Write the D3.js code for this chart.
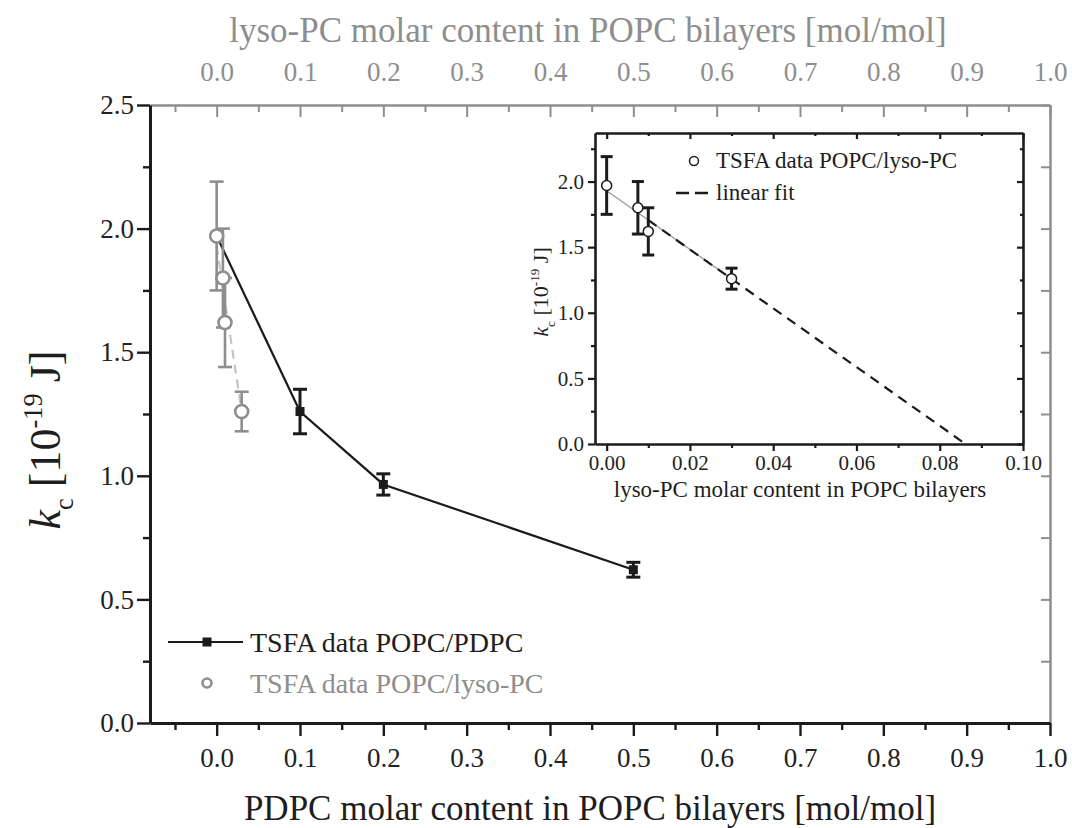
<!DOCTYPE html>
<html>
<head>
<meta charset="utf-8">
<script src="https://cdn.jsdelivr.net/npm/d3@7"></script>
<style>
  body { margin: 0; background: #fff; }
  text { font-family: "Liberation Serif", "DejaVu Serif", serif; }
</style>
</head>
<body>
<div id="chart"></div>
<script>
// POPC/PDPC series (bottom axis)
const pdpcX = [0.0, 0.1, 0.2, 0.5]
const pdpcK = [1.97, 1.26, 0.965, 0.62]
const pdpcErr = [0, 0.09, 0.043, 0.03]

// POPC/lyso-PC series (top axis, also inset)
const lysoX = [0.0, 0.0075, 0.01, 0.03]
const lysoK = [1.97, 1.80, 1.62, 1.26]
const lysoErr = [0.22, 0.20, 0.18, 0.08]

// linear fit end points
const fitMainX = [0.0, 0.03], fitMainK = [1.93, 1.26]
const fitInsetX = [0.01, 0.0862], fitInsetK = [1.706, 0.0]

const mainXTicks = d3.range(0, 11).map(d => d / 10)
const mainXMinor = d3.range(-1, 20, 2).map(d => d / 20)
const mainYTicks = [0, 0.5, 1.0, 1.5, 2.0, 2.5]
const mainYMinor = [0.25, 0.75, 1.25, 1.75, 2.25]
const insetXTicks = [0, 0.02, 0.04, 0.06, 0.08, 0.10]
const insetXMinor = [0.01, 0.03, 0.05, 0.07, 0.09]
const insetYTicks = [0, 0.5, 1.0, 1.5, 2.0]
const insetYMinor = [0.25, 0.75, 1.25, 1.75, 2.25]

const W = 1072, H = 828
const black = "#1b1b1b", gray = "#8e8e8e"

let svg = d3.select("#chart").append("svg")
    .attr("width", W)
    .attr("height", H)

//主图比例尺
let x = d3.scaleLinear().domain([-0.08, 1.0]).range([150, 1050])
let y = d3.scaleLinear().domain([0, 2.5]).range([723, 105])

function styleAxis(g, color, width, fontSize) {
    g.select(".domain").attr("stroke", color).attr("stroke-width", width)
    g.selectAll(".tick line").attr("stroke", color).attr("stroke-width", width * 0.8)
    g.selectAll(".tick text").attr("fill", color)
        .style("font-family", "Liberation Serif, serif")
        .style("font-size", fontSize + "px")
}

// top axis (gray, ticks inward)
let gTop = svg.append("g").attr("transform", "translate(0,105)")
    .call(d3.axisTop(x).tickValues(mainXTicks).tickSize(-12).tickSizeOuter(0)
        .tickPadding(24).tickFormat(d3.format(".1f")))
styleAxis(gTop, gray, 2.5, 27)
svg.append("g").attr("transform", "translate(0,105)")
    .call(d3.axisTop(x).tickValues(mainXMinor.filter(d => d > -0.06)).tickSize(-7).tickFormat(""))
    .call(g => g.select(".domain").remove())
    .selectAll("line").attr("stroke", gray).attr("stroke-width", 2)

// right axis (gray, ticks inward)
let gRight = svg.append("g").attr("transform", "translate(1050,0)")
    .call(d3.axisRight(y).tickValues(mainYTicks.concat(mainYMinor)).tickSize(-9).tickSizeOuter(0).tickFormat(""))
styleAxis(gRight, gray, 2.5, 27)

// bottom axis
let gBottom = svg.append("g").attr("transform", "translate(0,723)")
    .call(d3.axisBottom(x).tickValues(mainXTicks).tickSize(13).tickSizeOuter(0)
        .tickPadding(12).tickFormat(d3.format(".1f")))
styleAxis(gBottom, black, 3, 27)
gBottom.selectAll(".tick text").attr("fill", "#222")
svg.append("g").attr("transform", "translate(0,723)")
    .call(d3.axisBottom(x).tickValues(mainXMinor).tickSize(7).tickFormat(""))
    .call(g => g.select(".domain").remove())
    .selectAll("line").attr("stroke", black).attr("stroke-width", 2.4)

// left axis
let gLeft = svg.append("g").attr("transform", "translate(150,0)")
    .call(d3.axisLeft(y).tickValues(mainYTicks).tickSize(13).tickSizeOuter(0)
        .tickPadding(3).tickFormat(d3.format(".1f")))
styleAxis(gLeft, black, 3, 27)
gLeft.selectAll(".tick text").attr("fill", "#222")
svg.append("g").attr("transform", "translate(150,0)")
    .call(d3.axisLeft(y).tickValues(mainYMinor).tickSize(7).tickFormat(""))
    .call(g => g.select(".domain").remove())
    .selectAll("line").attr("stroke", black).attr("stroke-width", 2.4)

// axis titles
svg.append("text")
    .attr("x", 588).attr("y", 42)
    .attr("text-anchor", "middle")
    .attr("fill", gray)
    .style("font-size", "35px")
    .text("lyso-PC molar content in POPC bilayers [mol/mol]")

svg.append("text")
    .attr("x", 590).attr("y", 820)
    .attr("text-anchor", "middle")
    .attr("fill", "#1e1e1e")
    .style("font-size", "35px")
    .text("PDPC molar content in POPC bilayers [mol/mol]")

function kcLabel(sel, size) {
    sel.append("tspan").style("font-style", "italic").text("k")
    sel.append("tspan").attr("dy", size * 0.3).style("font-size", (size * 0.6) + "px").text("c")
    sel.append("tspan").attr("dy", -size * 0.3).text(" [10")
    sel.append("tspan").attr("dy", -size * 0.42).style("font-size", (size * 0.6) + "px").text("-19")
    sel.append("tspan").attr("dy", size * 0.42).text(" J]")
}
let yTitle = svg.append("text")
    .attr("transform", "translate(60,440) rotate(-90)")
    .attr("text-anchor", "middle")
    .attr("fill", "#1e1e1e")
    .style("font-size", "44px")
kcLabel(yTitle, 44)

let line = d3.line().x(d => x(d[0])).y(d => y(d[1]))

// PDPC series: line, error bars, squares
svg.append("path")
    .attr("d", line(d3.zip(pdpcX, pdpcK)))
    .attr("fill", "none").attr("stroke", black).attr("stroke-width", 2.2)

function errorBars(g, xs, ys, es, xs_, ys_, color, w, cap) {
    let bars = g.selectAll(null).data(d3.range(xs.length).filter(i => es[i] > 0)).enter().append("g")
    bars.append("line")
        .attr("x1", i => xs_(xs[i])).attr("x2", i => xs_(xs[i]))
        .attr("y1", i => ys_(ys[i] - es[i])).attr("y2", i => ys_(ys[i] + es[i]))
        .attr("stroke", color).attr("stroke-width", w)
    bars.selectAll(".cap").data(i => [ys[i] - es[i], ys[i] + es[i]].map(v => [xs[i], v])).enter()
        .append("line")
        .attr("x1", d => xs_(d[0]) - cap).attr("x2", d => xs_(d[0]) + cap)
        .attr("y1", d => ys_(d[1])).attr("y2", d => ys_(d[1]))
        .attr("stroke", color).attr("stroke-width", w)
}

let gPdpc = svg.append("g")
errorBars(gPdpc, pdpcX, pdpcK, pdpcErr, x, y, black, 3, 7)
gPdpc.selectAll(".sq").data(d3.range(pdpcX.length)).enter().append("rect")
    .attr("x", i => x(pdpcX[i]) - 4.5).attr("y", i => y(pdpcK[i]) - 4.5)
    .attr("width", 9).attr("height", 9).attr("fill", black)

// lyso-PC series in main plot (gray)
svg.append("path")
    .attr("d", line(d3.zip(fitMainX, fitMainK)))
    .attr("fill", "none").attr("stroke", "#c4c4c4").attr("stroke-width", 2.2)
    .attr("stroke-dasharray", "9,6")
let gLyso = svg.append("g")
errorBars(gLyso, lysoX, lysoK, lysoErr, x, y, gray, 2.6, 7)
gLyso.selectAll(".c").data(d3.range(lysoX.length)).enter().append("circle")
    .attr("cx", i => x(lysoX[i])).attr("cy", i => y(lysoK[i]))
    .attr("r", 6.5).attr("fill", "#fff").attr("stroke", gray).attr("stroke-width", 2.6)

// main legend
let leg = svg.append("g")
leg.append("line").attr("x1", 168).attr("x2", 243).attr("y1", 642).attr("y2", 642)
    .attr("stroke", black).attr("stroke-width", 2.2)
leg.append("rect").attr("x", 202.5).attr("y", 637.5).attr("width", 9).attr("height", 9).attr("fill", black)
leg.append("text").attr("x", 250).attr("y", 652).attr("fill", "#1e1e1e")
    .style("font-size", "28px").text("TSFA data POPC/PDPC")
leg.append("circle").attr("cx", 207).attr("cy", 683).attr("r", 4.5)
    .attr("fill", "#fff").attr("stroke", gray).attr("stroke-width", 2.6)
leg.append("text").attr("x", 250).attr("y", 693).attr("fill", gray)
    .style("font-size", "28px").text("TSFA data POPC/lyso-PC")

// ---------------- inset ----------------
let xi = d3.scaleLinear().domain([-0.0028, 0.10]).range([595, 1023])
let yi = d3.scaleLinear().domain([0, 2.37]).range([444, 133])

let inset = svg.append("g")
inset.append("rect").attr("x", 595).attr("y", 133).attr("width", 428).attr("height", 311)
    .attr("fill", "#fff").attr("stroke", "none")

function insetAxis(axis, tx, ty, values, size, labels) {
    let g = inset.append("g").attr("transform", "translate(" + tx + "," + ty + ")")
        .call(axis.tickValues(values).tickSize(size).tickSizeOuter(0)
            .tickPadding(4).tickFormat(labels || ""))
    g.select(".domain").attr("stroke", black).attr("stroke-width", 2.6)
    g.selectAll(".tick line").attr("stroke", black).attr("stroke-width", 2.2)
    g.selectAll(".tick text").attr("fill", "#222")
        .style("font-family", "Liberation Serif, serif").style("font-size", "21px")
    return g
}
insetAxis(d3.axisBottom(xi), 0, 444, insetXTicks, 7, d3.format(".2f"))
insetAxis(d3.axisBottom(xi), 0, 444, insetXMinor, 4).select(".domain").remove()
insetAxis(d3.axisLeft(yi), 595, 0, insetYTicks, 7, d3.format(".1f"))
insetAxis(d3.axisLeft(yi), 595, 0, insetYMinor, 4).select(".domain").remove()
insetAxis(d3.axisTop(xi), 0, 133, insetXTicks, -6)
insetAxis(d3.axisTop(xi), 0, 133, insetXMinor, -3).select(".domain").remove()
insetAxis(d3.axisRight(yi), 1023, 0, insetYTicks, -6)
insetAxis(d3.axisRight(yi), 1023, 0, insetYMinor, -3).select(".domain").remove()

let linei = d3.line().x(d => xi(d[0])).y(d => yi(d[1]))
inset.append("path")
    .attr("d", linei(d3.zip(fitMainX, fitMainK)))
    .attr("fill", "none").attr("stroke", "#9a9a9a").attr("stroke-width", 1.3)
inset.append("path")
    .attr("d", linei(d3.zip(fitInsetX, fitInsetK)))
    .attr("fill", "none").attr("stroke", black).attr("stroke-width", 2.2)
    .attr("stroke-dasharray", "10,7")

let gIn = inset.append("g")
errorBars(gIn, lysoX, lysoK, lysoErr, xi, yi, black, 3, 6)
gIn.selectAll(".c").data(d3.range(lysoX.length)).enter().append("circle")
    .attr("cx", i => xi(lysoX[i])).attr("cy", i => yi(lysoK[i]))
    .attr("r", 5).attr("fill", "#fff").attr("stroke", black).attr("stroke-width", 1.5)

// inset legend
inset.append("circle").attr("cx", 694).attr("cy", 161).attr("r", 4.5)
    .attr("fill", "#fff").attr("stroke", black).attr("stroke-width", 1.5)
inset.append("text").attr("x", 716).attr("y", 168).attr("fill", "#1e1e1e")
    .style("font-size", "23px").text("TSFA data POPC/lyso-PC")
inset.append("line").attr("x1", 676).attr("x2", 712).attr("y1", 193).attr("y2", 193)
    .attr("stroke", black).attr("stroke-width", 2.4).attr("stroke-dasharray", "13,6")
inset.append("text").attr("x", 716).attr("y", 200).attr("fill", "#1e1e1e")
    .style("font-size", "23px").text("linear fit")

// inset axis titles
inset.append("text")
    .attr("x", 800).attr("y", 497)
    .attr("text-anchor", "middle").attr("fill", "#1e1e1e")
    .style("font-size", "23px")
    .text("lyso-PC molar content in POPC bilayers")
let yiTitle = inset.append("text")
    .attr("transform", "translate(548,292) rotate(-90)")
    .attr("text-anchor", "middle").attr("fill", "#1e1e1e")
    .style("font-size", "22px")
kcLabel(yiTitle, 22)
</script>
</body>
</html>
